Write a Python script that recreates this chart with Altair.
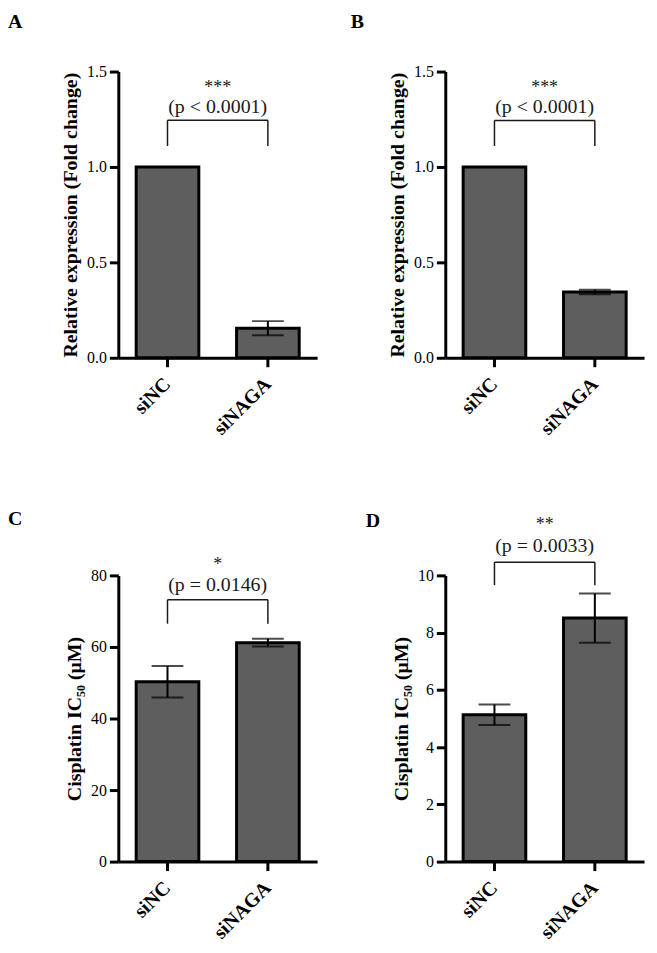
import altair as alt
import pandas as pd

# ---------------- data ----------------
categories = ["siNC", "siNAGA"]

a_means = [1.0, 0.155]
a_errs = [0.0, 0.037]
b_means = [1.0, 0.345]
b_errs = [0.0, 0.012]
c_means = [50.3, 61.2]
c_errs = [4.4, 1.1]
d_means = [5.13, 8.51]
d_errs = [0.36, 0.86]

panel_letters = ["A", "B", "C", "D"]
y_titles = [
    "Relative expression (Fold change)",
    "Relative expression (Fold change)",
    "Cisplatin IC₅₀ (μM)",
    "Cisplatin IC₅₀ (μM)",
]
y_domains = [[0, 1.5], [0, 1.5], [0, 80], [0, 10]]
y_ticks = [[0, 0.5, 1.0, 1.5], [0, 0.5, 1.0, 1.5], [0, 20, 40, 60, 80], [0, 2, 4, 6, 8, 10]]
y_formats = [".1f", ".1f", "d", "d"]

stars = ["***", "***", "*", "**"]
p_texts = ["(p < 0.0001)", "(p < 0.0001)", "(p = 0.0146)", "(p = 0.0033)"]
bracket_y = [1.245, 1.244, 73.2, 10.46]
bracket_leg = [1.11, 1.11, 66.5, 9.66]
p_text_y = [1.281, 1.281, 75.7, 10.81]
star_y = [1.39, 1.39, 81.5, 11.58]

# panel-letter placement offsets (style only)
letter_dx = [-111, -95, -111, -80]
letter_dy = [-1.5, -1.5, 2.3, 45]

FONT = "Liberation Serif"
W, H = 200, 288


def panel(i, means, errs):
    df = pd.DataFrame({
        "group": categories,
        "mean": means,
        "lo": [m - e for m, e in zip(means, errs)],
        "hi": [m + e for m, e in zip(means, errs)],
    })
    xscale = alt.Scale(domain=categories, paddingInner=0.376, paddingOuter=0.178)
    yscale = alt.Scale(domain=y_domains[i], nice=False, zero=True)
    x = alt.X(
        "group:N", scale=xscale, sort=categories, title=None,
        axis=alt.Axis(labelAngle=-45, labelAlign="right", labelBaseline="middle",
                      labelFont=FONT, labelFontSize=20, labelFontWeight="bold",
                      labelColor="black", labelPadding=14, domainColor="black",
                      domainWidth=3, tickColor="black", tickWidth=3, tickSize=9,
                      grid=False),
    )
    y = alt.Y(
        "mean:Q", scale=yscale, title=y_titles[i],
        axis=alt.Axis(values=y_ticks[i], format=y_formats[i], labelFont=FONT,
                      labelFontSize=16, labelColor="black", labelPadding=3,
                      titleFont=FONT, titleFontSize=20, titleFontWeight="bold",
                      titleColor="black", titlePadding=6, domainColor="black",
                      domainWidth=3, tickColor="black", tickWidth=3, tickSize=9,
                      grid=False),
    )
    base = alt.Chart(df)
    bars = base.mark_bar(color="#5e5e5e", stroke="black", strokeWidth=3).encode(x=x, y=y)
    err = base.mark_rule(color="black", strokeWidth=2).encode(
        x=alt.X("group:N", scale=xscale, sort=categories),
        y="lo:Q", y2="hi:Q")
    cap_hi = base.mark_tick(color="black", thickness=2, size=32).encode(
        x=alt.X("group:N", scale=xscale, sort=categories), y="hi:Q")
    cap_lo = base.mark_tick(color="black", thickness=2, size=32).encode(
        x=alt.X("group:N", scale=xscale, sort=categories), y="lo:Q")

    br = pd.DataFrame({
        "g1": [categories[0]],
        "g2": [categories[1]],
        "by": [bracket_y[i]],
        "leg": [bracket_leg[i]],
        "py": [p_text_y[i]],
        "sy": [star_y[i]],
        "p": [p_texts[i]],
        "s": [stars[i]],
    })
    bbase = alt.Chart(br)
    hline = bbase.mark_rule(color="#1a1a1a", strokeWidth=1.5).encode(
        x=alt.X("g1:N", scale=xscale), x2="g2:N", y="by:Q")
    leg_l = bbase.mark_rule(color="#1a1a1a", strokeWidth=1.5).encode(
        x=alt.X("g1:N", scale=xscale), y="leg:Q", y2="by:Q")
    leg_r = bbase.mark_rule(color="#1a1a1a", strokeWidth=1.5).encode(
        x=alt.X("g2:N", scale=xscale), y="leg:Q", y2="by:Q")
    ptxt = bbase.mark_text(font=FONT, fontSize=20, color="#1a1a1a", align="center",
                           baseline="alphabetic", dx=50.5).encode(
        x=alt.X("g1:N", scale=xscale), y="py:Q", text="p:N")
    stxt = bbase.mark_text(font=FONT, fontSize=18, color="#1a1a1a", align="center",
                           baseline="alphabetic", dx=50.5).encode(
        x=alt.X("g1:N", scale=xscale), y="sy:Q", text="s:N")

    return alt.layer(bars, err, cap_hi, cap_lo, hline, leg_l, leg_r, ptxt, stxt).properties(
        width=W, height=H,
        title=alt.TitleParams(panel_letters[i], anchor="start", frame="group",
                              dx=letter_dx[i], dy=letter_dy[i],
                              font=FONT, fontSize=20, fontWeight="bold", color="black",
                              offset=30),
    )


pa = panel(0, a_means, a_errs)
pb = panel(1, b_means, b_errs)
pc = panel(2, c_means, c_errs)
pd_ = panel(3, d_means, d_errs)

chart = alt.concat(
    pa, pb, pc, pd_, columns=2,
    spacing={"row": 219, "column": 129}, bounds="flush",
).properties(
    padding={"left": 0, "top": 1, "right": 5, "bottom": 5},
    background="white",
).configure_view(stroke=None)

chart.save("out.html", embed_options={"renderer": "svg", "actions": False})
